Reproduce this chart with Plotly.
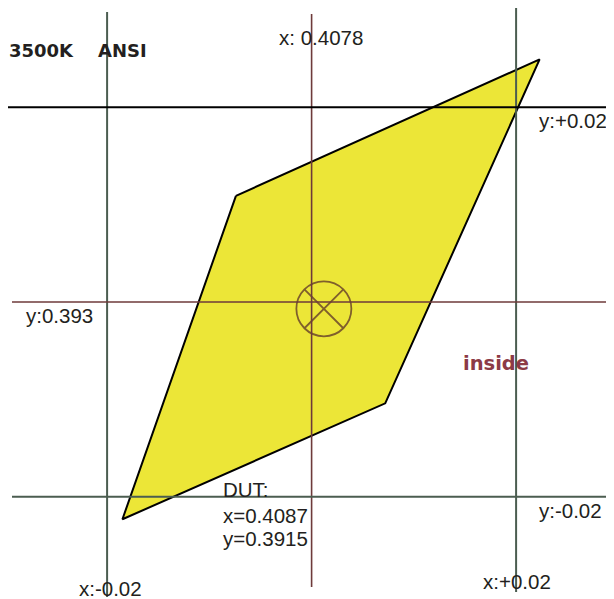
import plotly.graph_objects as go

# ---- data ----
center_x = 0.4078
center_y = 0.393
tolerance = 0.02

quad_x = [0.4004, 0.4301, 0.4150, 0.3893]
quad_y = [0.4039, 0.4179, 0.3826, 0.3707]

dut_marker_x = [0.4090]
dut_marker_y = [0.3923]
dut_label_x = "0.4087"
dut_label_y = "0.3915"

title_left = "3500K"
title_right = "ANSI"

# page body has an 8px margin; figure is sized to fit the remaining window
OFF = 8
W, H = 614 - OFF, 599 - OFF
x_range = [0.378108, 0.437375]
y_range = [0.362516, 0.423175]

GREEN = "#4b5d50"
RED = "#6e3a3a"
TEXT = "#231f20"

fig = go.Figure()

# quadrangle
fig.add_trace(go.Scatter(
    x=quad_x + [quad_x[0]], y=quad_y + [quad_y[0]],
    mode="lines", fill="toself", fillcolor="#ece637",
    line=dict(color="#000000", width=2), hoverinfo="skip", showlegend=False))

def px2paper_x(px):
    return (px - OFF) / W

def px2paper_y(py):
    return 1 - (py - OFF) / H

# vertical lines
for xv, col, y0, y1, w in [
    (center_x - tolerance, GREEN, 597, 12, 2),
    (center_x, RED, 587, 14, 1.6),
    (center_x + tolerance, GREEN, 592, 8, 2),
]:
    fig.add_shape(type="line", xref="x", yref="paper", x0=xv, x1=xv,
                  y0=px2paper_y(y0), y1=px2paper_y(y1),
                  line=dict(color=col, width=w), layer="above")

# horizontal lines
for yv, col, x0, x1, w in [
    (center_y + tolerance, "#000000", 8, 612, 2),
    (center_y, RED, 12, 608, 1.6),
    (center_y - tolerance, GREEN, 12, 609, 2),
]:
    fig.add_shape(type="line", xref="paper", yref="y", x0=px2paper_x(x0), x1=px2paper_x(x1),
                  y0=yv, y1=yv, line=dict(color=col, width=w), layer="above")

# DUT marker
fig.add_trace(go.Scatter(
    x=dut_marker_x, y=dut_marker_y, mode="markers",
    marker=dict(symbol="circle-x-open", size=55, color="#7f5f2c",
                line=dict(color="#7f5f2c", width=1.8)),
    hoverinfo="skip", showlegend=False))

REG = dict(family="Liberation Sans, Arial, sans-serif", size=20.5, color=TEXT)
BOLD = dict(family="DejaVu Sans, sans-serif", size=18, color=TEXT)

def ann(text, px, py, font):
    fig.add_annotation(text=text, x=px2paper_x(px - 1), y=px2paper_y(py),
                       xref="paper", yref="paper", xanchor="left", yanchor="middle",
                       showarrow=False, font=font)

ann("<b>" + title_left + "</b>", 8, 51, BOLD)
ann("<b>" + title_right + "</b>", 97, 51, BOLD)
ann("x: " + f"{center_x:.4f}", 278, 37.5, REG)
ann("y:+" + f"{tolerance:.2f}", 538, 121, REG)
ann("y:" + f"{center_y:.3f}", 25, 315, REG)
ann("y:-" + f"{tolerance:.2f}", 538, 510, REG)
ann("x:-" + f"{tolerance:.2f}", 78, 588, REG)
ann("x:+" + f"{tolerance:.2f}", 482, 581, REG)
ann("DUT:", 222, 489, REG)
ann("x=" + dut_label_x, 222, 515, REG)
ann("y=" + dut_label_y, 222, 538, REG)
ann("<b>inside</b>", 462, 363, dict(family="DejaVu Sans, sans-serif", size=19.5, color="#8c3a46"))

fig.update_layout(
    width=W, height=H, autosize=False,
    margin=dict(l=0, r=0, t=0, b=0),
    paper_bgcolor="white", plot_bgcolor="white",
    xaxis=dict(range=x_range, visible=False, fixedrange=True),
    yaxis=dict(range=y_range, visible=False, fixedrange=True),
    showlegend=False,
)

fig.write_html("out.html")
